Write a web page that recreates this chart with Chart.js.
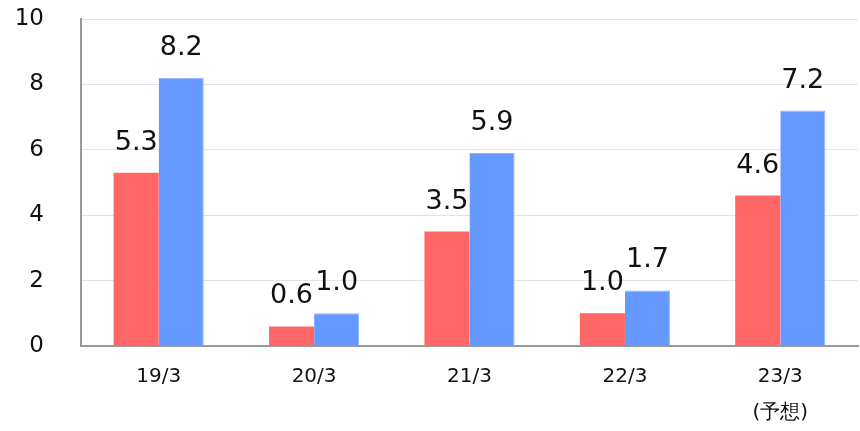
<!DOCTYPE html>
<html>
<head>
<meta charset="utf-8">
<script src="https://cdn.jsdelivr.net/npm/chart.js@4"></script>
<style>
  html, body { margin: 0; padding: 0; background: #fff; }
  #wrap { width: 860px; height: 431px; }
</style>
</head>
<body>
<div id="wrap"><canvas id="myChart"></canvas></div>
<script>
const categories = [["19/3"], ["20/3"], ["21/3"], ["22/3"], ["23/3", "(予想)"]]
const redValues = [5.3, 0.6, 3.5, 1.0, 4.6]
const blueValues = [8.2, 1.0, 5.9, 1.7, 7.2]
const yTicks = [0, 2, 4, 6, 8, 10]

const fontFamily = "'DejaVu Sans', Verdana, sans-serif"

// writes the value above each bar
const valueLabels = {
  id: 'valueLabels',
  afterDatasetsDraw(chart) {
    const ctx = chart.ctx
    ctx.save()
    ctx.font = '27px ' + fontFamily
    ctx.fillStyle = '#111'
    ctx.textAlign = 'center'
    ctx.textBaseline = 'alphabetic'
    chart.data.datasets.forEach((ds, i) => {
      chart.getDatasetMeta(i).data.forEach((bar, j) => {
        ctx.fillText(ds.data[j].toFixed(1), bar.x, bar.y - 23)
      })
    })
    ctx.restore()
  }
}

const ctx = document.getElementById('myChart')
new Chart(ctx, {
  type: 'bar',
  data: {
    labels: categories,
    datasets: [{
      data: redValues,
      backgroundColor: '#ff6666',
      barPercentage: 1,
      categoryPercentage: 0.58
    }, {
      data: blueValues,
      backgroundColor: '#6699ff',
      borderColor: '#8cb3ff',
      borderWidth: { top: 1, right: 1, left: 0, bottom: 0 },
      barPercentage: 1,
      categoryPercentage: 0.58
    }]
  },
  options: {
    responsive: true,
    maintainAspectRatio: false,
    animation: false,
    layout: { padding: { top: 19, right: 2, left: 0, bottom: 0 } },
    plugins: {
      legend: { display: false },
      tooltip: { enabled: false }
    },
    scales: {
      x: {
        grid: { display: false, drawTicks: false },
        border: { color: '#999', width: 2 },
        ticks: {
          color: '#111',
          padding: 13,
          font: { family: fontFamily, size: 20, lineHeight: 1.8 }
        },
        afterFit: (axis) => { axis.height = 85 }
      },
      y: {
        min: 0,
        max: 10,
        afterBuildTicks: (axis) => { axis.ticks = yTicks.map(v => ({ value: v })) },
        grid: { color: '#dfe4ec', drawTicks: false },
        border: { color: '#999', width: 2 },
        ticks: {
          color: '#111',
          padding: 37,
          font: { family: fontFamily, size: 23 }
        },
        afterFit: (axis) => {
          axis.width = 81
          axis.paddingTop = 0
          axis.paddingBottom = 0
        }
      }
    }
  },
  plugins: [valueLabels]
})
</script>
</body>
</html>
